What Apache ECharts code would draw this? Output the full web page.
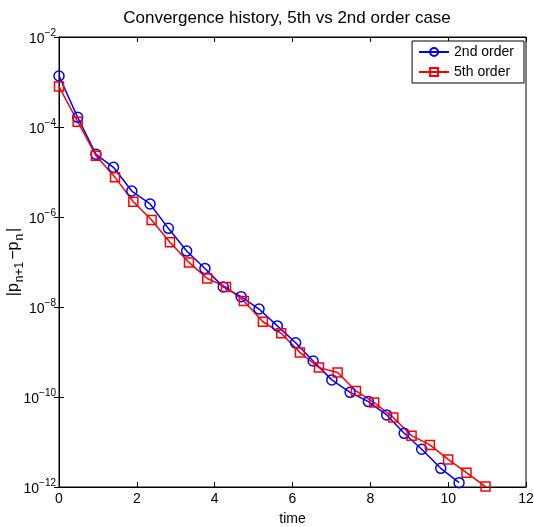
<!DOCTYPE html>
<html>
<head>
<meta charset="utf-8">
<script src="https://cdn.jsdelivr.net/npm/echarts@6/dist/echarts.min.js"></script>
<style>html,body{margin:0;padding:0;background:#fff}#c{width:534px;height:527px}</style>
</head>
<body>
<div id="c"></div>
<script>
// 2nd order scheme (blue circles)
const time2 = [0, 0.48, 0.95, 1.40, 1.87, 2.34, 2.81, 3.28, 3.75, 4.22, 4.68, 5.14, 5.61, 6.08, 6.53, 7.01, 7.48, 7.95, 8.42, 8.87, 9.32, 9.81, 10.28];
const err2 = [1.36e-3, 1.64e-4, 2.47e-5, 1.27e-5, 3.78e-6, 1.95e-6, 5.6e-7, 1.75e-7, 7.2e-8, 2.8e-8, 1.7e-8, 9.0e-9, 3.8e-9, 1.6e-9, 6.3e-10, 2.4e-10, 1.27e-10, 7.9e-11, 4.0e-11, 1.56e-11, 6.9e-12, 2.6e-12, 1.25e-12];
// 5th order scheme (red squares)
const time5 = [0, 0.48, 0.95, 1.44, 1.91, 2.38, 2.85, 3.34, 3.81, 4.29, 4.75, 5.24, 5.71, 6.19, 6.68, 7.16, 7.63, 8.10, 8.59, 9.06, 9.53, 10.0, 10.47, 10.96];
const err5 = [7.9e-4, 1.31e-4, 2.3e-5, 7.6e-6, 2.19e-6, 8.6e-7, 2.74e-7, 9.8e-8, 4.3e-8, 2.8e-8, 1.36e-8, 4.7e-9, 2.6e-9, 9.8e-10, 4.5e-10, 3.5e-10, 1.36e-10, 7.5e-11, 3.5e-11, 1.38e-11, 8.6e-12, 4.1e-12, 2.08e-12, 1.02e-12];
const seriesNames = ['2nd order', '5th order'];
const titleText = 'Convergence history, 5th vs 2nd order case';
const xLabel = 'time';

const FONT = 'Liberation Sans, Arial, Helvetica, sans-serif';
const chart = echarts.init(document.getElementById('c'), null, {renderer: 'canvas'});

function pairs(xs, ys) { return xs.map((x, i) => [x, ys[i]]); }

const axisLine = {show: true, lineStyle: {color: '#000', width: 1}};
const tickIn = {show: true, inside: true, length: 5, lineStyle: {color: '#000', width: 1}};

chart.setOption({
  backgroundColor: '#fff',
  animation: false,
  title: {
    text: titleText, left: 282, top: 5, textAlign: 'center',
    textStyle: {fontFamily: FONT, fontSize: 17, fontWeight: 'normal', color: '#000'}
  },
  legend: {
    right: 10, top: 41, orient: 'vertical',
    backgroundColor: '#fff', borderColor: '#000', borderWidth: 1,
    padding: [4, 10, 4, 6], itemGap: 6, itemWidth: 30, itemHeight: 10,
    textStyle: {fontFamily: FONT, fontSize: 14, color: '#000'},
    data: seriesNames
  },
  grid: {left: 59, right: 8, top: 37, bottom: 40, containLabel: false, outerBoundsMode: 'none',
         show: true, borderColor: '#000', borderWidth: 1},
  xAxis: [{
    type: 'value', min: 0, max: 12, interval: 2,
    name: xLabel, nameLocation: 'middle', nameGap: 25,
    nameTextStyle: {fontFamily: FONT, fontSize: 14, color: '#000'},
    axisLine: axisLine, axisTick: tickIn, splitLine: {show: false},
    axisLabel: {fontFamily: FONT, fontSize: 14, color: '#000', margin: 5}
  }, {
    type: 'value', min: 0, max: 12, interval: 2, position: 'top',
    axisLine: axisLine, axisTick: tickIn, splitLine: {show: false},
    axisLabel: {show: false}
  }],
  yAxis: [{
    type: 'log', logBase: 10, min: 1e-12, max: 1e-2, interval: 2,
    name: '{m||p}{s|n+1}{m|−p}{s|n}{m||}', nameLocation: 'middle', nameGap: 33, nameRotate: 90,
    nameMoveOverlap: false,
    nameTextStyle: {
      fontFamily: FONT, fontSize: 16, color: '#000',
      rich: {
        m: {fontFamily: FONT, fontSize: 16, color: '#000', lineHeight: 24, verticalAlign: 'middle'},
        s: {fontFamily: FONT, fontSize: 12, color: '#000', verticalAlign: 'bottom', lineHeight: 24, padding: [0, 2, 0, 1]}
      }
    },
    axisLine: axisLine, axisTick: tickIn, splitLine: {show: false}, minorTick: {show: false},
    axisLabel: {
      margin: 3, color: '#000',
      formatter: function (v) {
        const e = Math.round(Math.log10(v));
        return '{b|10}{s|' + (e < 0 ? '−' + (-e) : e) + '}';
      },
      rich: {
        b: {fontFamily: FONT, fontSize: 14, color: '#000', verticalAlign: 'bottom', lineHeight: 18},
        s: {fontFamily: FONT, fontSize: 10, color: '#000', verticalAlign: 'top', lineHeight: 18}
      }
    }
  }, {
    type: 'log', logBase: 10, min: 1e-12, max: 1e-2, interval: 2, position: 'right',
    axisLine: axisLine, axisTick: tickIn, splitLine: {show: false}, minorTick: {show: false},
    axisLabel: {show: false}
  }],
  series: [{
    name: seriesNames[0], type: 'line', xAxisIndex: 0, yAxisIndex: 0,
    data: pairs(time2, err2),
    symbol: 'circle', symbolSize: 10, showAllSymbol: true,
    lineStyle: {color: '#0000ff', width: 1.5},
    itemStyle: {color: 'rgba(255,255,255,0)', borderColor: '#0000ff', borderWidth: 1.5}
  }, {
    name: seriesNames[1], type: 'line', xAxisIndex: 0, yAxisIndex: 0,
    data: pairs(time5, err5),
    symbol: 'rect', symbolSize: 9, showAllSymbol: true,
    lineStyle: {color: '#ff0000', width: 1.5},
    itemStyle: {color: 'rgba(255,255,255,0)', borderColor: '#ff0000', borderWidth: 1.5}
  }]
});
</script>
</body>
</html>
